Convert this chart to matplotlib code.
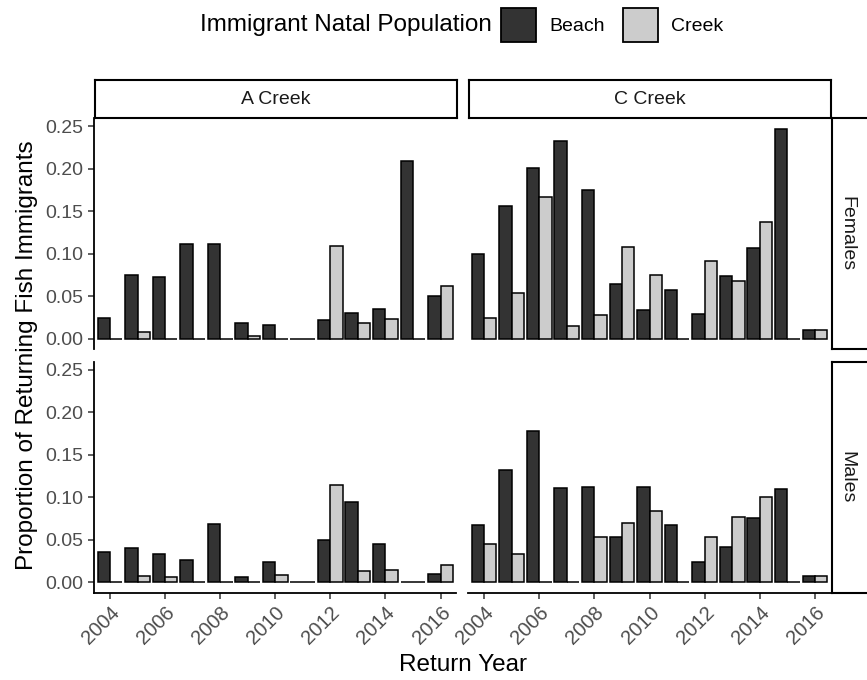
#
# Immigrant proportions by return year - facet grid (site x sex)
#
import matplotlib
matplotlib.use("Agg")
import matplotlib.pyplot as plt
from matplotlib.patches import Patch

plt.rcParams['font.family'] = ['Liberation Sans', 'DejaVu Sans']

years = [2004, 2005, 2006, 2007, 2008, 2009, 2010, 2011, 2012, 2013, 2014, 2015, 2016]
sites = ["A Creek", "C Creek"]
sexes = ["Females", "Males"]
groups = ["Beach", "Creek"]

# A Creek
a_fem_beach = [0.025, 0.075, 0.073, 0.111, 0.111, 0.019, 0.016, 0.0, 0.022, 0.030, 0.035, 0.209, 0.050]
a_fem_creek = [0.0, 0.008, 0.0, 0.0, 0.0, 0.003, 0.0, 0.0, 0.109, 0.019, 0.023, 0.0, 0.062]
a_mal_beach = [0.036, 0.041, 0.033, 0.026, 0.069, 0.006, 0.024, 0.0, 0.050, 0.095, 0.045, 0.0, 0.010]
a_mal_creek = [0.0, 0.008, 0.007, 0.0, 0.0, 0.0, 0.009, 0.0, 0.115, 0.014, 0.015, 0.0, 0.020]
# C Creek
c_fem_beach = [0.100, 0.156, 0.201, 0.232, 0.175, 0.065, 0.034, 0.058, 0.029, 0.074, 0.107, 0.247, 0.011]
c_fem_creek = [0.024, 0.054, 0.167, 0.015, 0.028, 0.108, 0.075, 0.0, 0.091, 0.068, 0.137, 0.0, 0.011]
c_mal_beach = [0.068, 0.132, 0.178, 0.111, 0.112, 0.053, 0.112, 0.068, 0.024, 0.042, 0.076, 0.110, 0.008]
c_mal_creek = [0.045, 0.033, 0.0, 0.0, 0.053, 0.070, 0.084, 0.0, 0.054, 0.077, 0.100, 0.0, 0.008]

panels = {
    ("A Creek", "Females"): (a_fem_beach, a_fem_creek),
    ("A Creek", "Males"): (a_mal_beach, a_mal_creek),
    ("C Creek", "Females"): (c_fem_beach, c_fem_creek),
    ("C Creek", "Males"): (c_mal_beach, c_mal_creek),
}

colors = {"Beach": "#333333", "Creek": "#CCCCCC"}
W, H = 867, 680


def px(x0, y0, x1, y1):
    """pixel box (top-left origin) -> figure fraction rect"""
    return [x0 / W, 1 - y1 / H, (x1 - x0) / W, (y1 - y0) / H]


fig = plt.figure(figsize=(W / 100, H / 100), dpi=100)

col_x = [(94, 456.5), (468, 831)]
row_y = [(118, 349.5), (362, 593)]
bw = 0.45

for ci, site in enumerate(sites):
    for ri, sex in enumerate(sexes):
        x0, x1 = col_x[ci]
        y0, y1 = row_y[ri]
        ax = fig.add_axes(px(x0, y0, x1, y1))
        beach, creek = panels[(site, sex)]
        ax.bar([y - bw / 2 for y in years], beach, width=bw, color=colors["Beach"],
               edgecolor="black", linewidth=1.1)
        ax.bar([y + bw / 2 for y in years], creek, width=bw, color=colors["Creek"],
               edgecolor="black", linewidth=1.1)
        ax.set_xlim(2003.42, 2016.58)
        ax.set_ylim(-0.0124, 0.2594)
        for s in ["top", "right"]:
            ax.spines[s].set_visible(False)
        ax.spines["left"].set_linewidth(1.3)
        ax.spines["bottom"].set_linewidth(1.3)
        ax.set_yticks([0, 0.05, 0.10, 0.15, 0.20, 0.25])
        ax.set_xticks(years[::2])
        ax.tick_params(length=4, width=1.1, color="#333333", labelcolor="#4D4D4D",
                       labelsize=14)
        if ci == 0:
            ax.set_yticklabels(["%.2f" % v for v in ax.get_yticks()])
        else:
            ax.spines["left"].set_visible(False)
            ax.tick_params(axis="y", left=False, labelleft=False)
        if ri == 1:
            ax.set_xticklabels([str(y) for y in years[::2]], rotation=45,
                               ha="right", va="top", rotation_mode="anchor")
            ax.tick_params(axis="x", pad=3, labelsize=14.5)
        else:
            ax.spines["bottom"].set_visible(False)
            ax.tick_params(axis="x", bottom=False, labelbottom=False)
        ax.patch.set_alpha(0)

        # top strips
        if ri == 0:
            sax = fig.add_axes(px(x0 + 1, 80, x1, y0))
            sax.set_xticks([])
            sax.set_yticks([])
            for s in sax.spines.values():
                s.set_linewidth(1.5)
            sax.text(0.5, 0.5, site, ha="center", va="center", fontsize=14,
                     color="#1A1A1A", transform=sax.transAxes)
        # right strips
        if ci == 1:
            rax = fig.add_axes(px(832, y0, 870, y1))
            rax.set_xticks([])
            rax.set_yticks([])
            for s in rax.spines.values():
                s.set_linewidth(1.5)
            rax.text(15 / 38, 0.5, sex, ha="center", va="center", rotation=270,
                     fontsize=14, color="#1A1A1A", transform=rax.transAxes)

fig.text(27 / W, 1 - 355 / H, "Proportion of Returning Fish Immigrants", rotation=90,
         ha="center", va="center", fontsize=17.5)
fig.text(463 / W, 1 - 665 / H, "Return Year", ha="center", va="center", fontsize=17.5)

# legend
fig.text(200 / W, 1 - 25 / H, "Immigrant Natal Population", ha="left", va="center",
         fontsize=17.5)
handles = [Patch(facecolor=colors[g], edgecolor="black", linewidth=1.3) for g in groups]
fig.legend(handles, groups, ncol=2, loc="center left", bbox_to_anchor=(501 / W, 1 - 25 / H),
           frameon=False, fontsize=14, handlelength=1.8, handleheight=2.3,
           handletextpad=0.7, columnspacing=0.9, borderpad=0, borderaxespad=0)

fig.savefig("out.png", dpi=100)
